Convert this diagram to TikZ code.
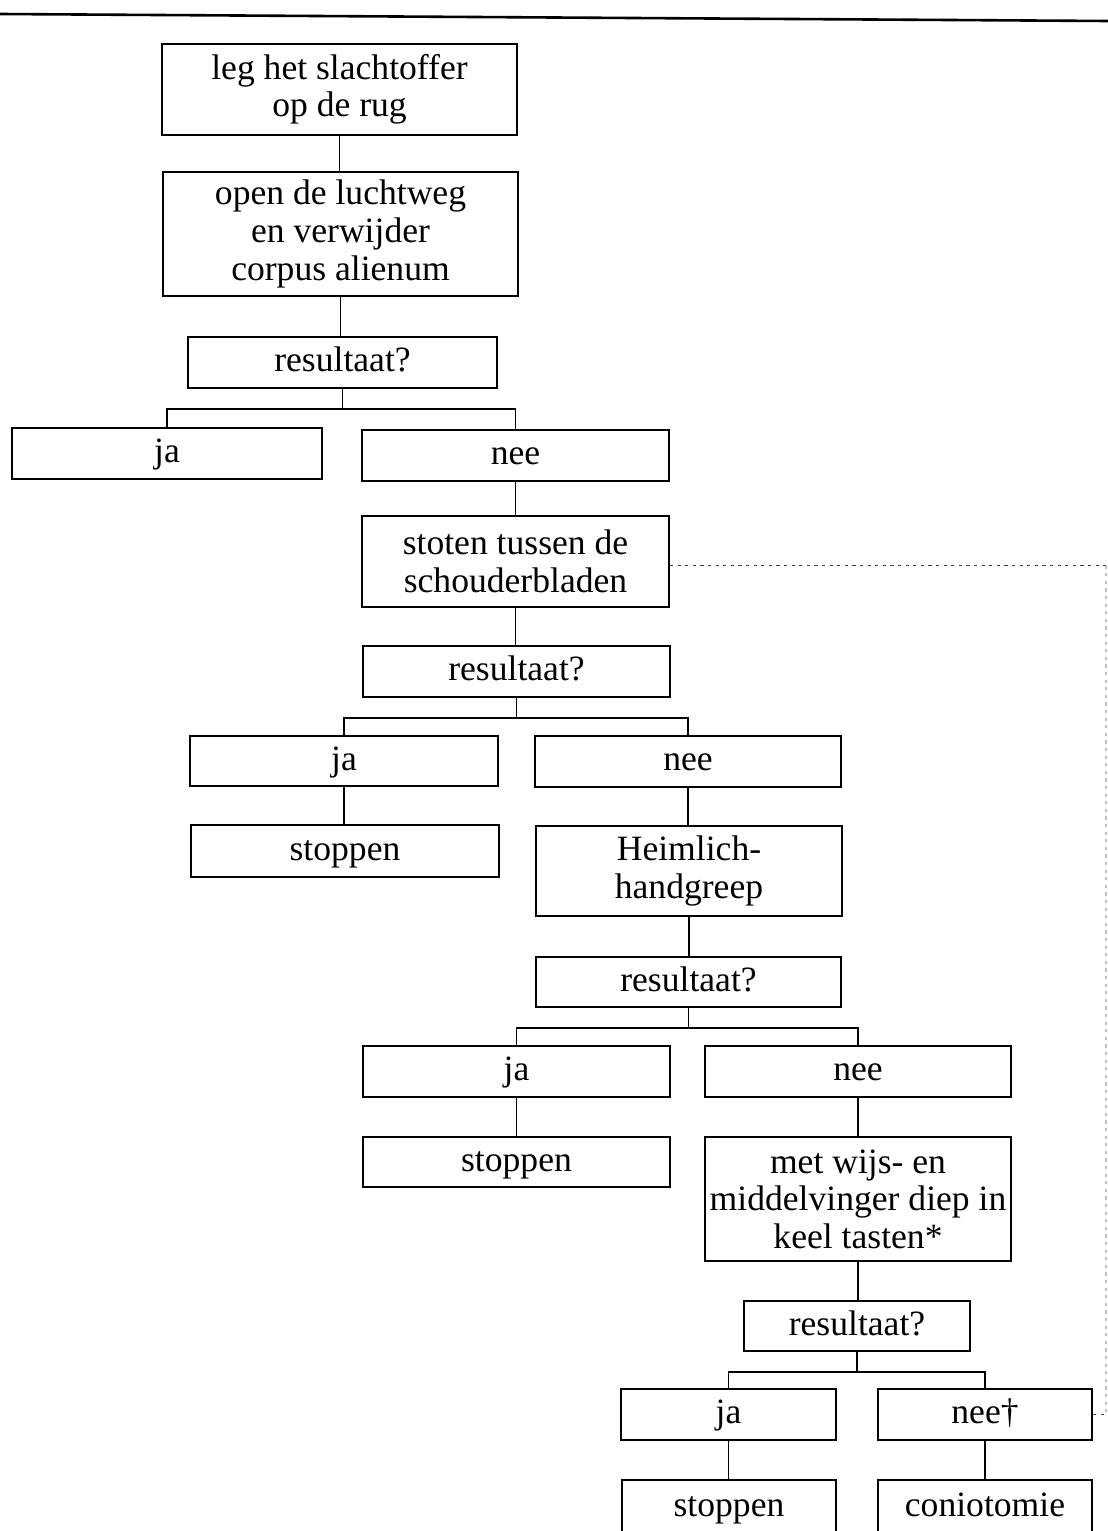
\documentclass[tikz,border=0pt]{standalone}
\usepackage{fontspec}
\setmainfont{Liberation Serif}
\begin{document}
\begin{tikzpicture}[x=0.5pt,y=-0.5pt,
  box/.style={draw, line width=0.9pt, inner sep=0pt, align=center,
    font=\fontsize{17.8}{18.8}\selectfont},
  one/.style={box, text height=13pt, text depth=3.6pt},
  sz/.style 2 args={minimum width=#1*0.5pt, minimum height=#2*0.5pt},
  link/.style={line width=0.8pt},
  dotline/.style={line width=0.9pt, dash pattern=on 1.6pt off 2.2pt}]
\useasboundingbox (0,0) rectangle (1108,1531);
\clip (0,0) rectangle (1108,1531);
\draw[line width=1.3pt] (0,14) -- (1108,21);

\node[box, sz={355}{91}]  (b1)    at (339.5,89.5) {leg het slachtoffer\\op de rug};
\node[box, sz={355}{124}] (b2)    at (340.5,234)  {open de luchtweg\\en verwijder\\corpus alienum};
\node[one, sz={309}{51}]  (r1)    at (342.5,362.5) {resultaat?};
\node[one, sz={310}{51}]  (ja1)   at (167,453.5)  {ja};
\node[one, sz={307}{51}]  (nee1)  at (515.5,455.5) {nee};
\node[box, sz={307}{91}]  (st)    at (515.5,561.5) {stoten tussen de\\schouderbladen};
\node[one, sz={307}{51}]  (r2)    at (516.5,671.5) {resultaat?};
\node[one, sz={308}{50}]  (ja2)   at (344,761)    {ja};
\node[one, sz={306}{51}]  (nee2)  at (688,761.5)  {nee};
\node[one, sz={308}{52}]  (stop2) at (345,851)    {stoppen};
\node[box, sz={306}{90}]  (heim)  at (689,871)    {Heimlich-\\handgreep};
\node[one, sz={305}{50}]  (r3)    at (688.5,982)  {resultaat?};
\node[one, sz={307}{51}]  (ja3)   at (516.5,1071.5) {ja};
\node[one, sz={306}{51}]  (nee3)  at (858,1071.5) {nee};
\node[one, sz={307}{50}]  (stop3) at (516.5,1162) {stoppen};
\node[box, sz={306}{124}] (wijs)  at (858,1199)   {met wijs- en\\middelvinger diep in\\keel tasten*};
\node[one, sz={226}{50}]  (r4)    at (857,1326)   {resultaat?};
\node[one, sz={215}{51}]  (ja4)   at (728.5,1414.5) {ja};
\node[one, sz={214}{51}]  (nee4)  at (985,1414.5) {nee\textdagger};
\node[one, sz={214}{54}]  (stop4) at (729,1507)   {stoppen};
\node[one, sz={214}{54}]  (conio) at (985,1507)   {coniotomie};

% straight links
\draw[link] (b1.south) -- (b1.south |- b2.north);
\draw[link] (b2.south) -- (b2.south |- r1.north);
\draw[link] (nee1.south) -- (nee1.south |- st.north);
\draw[link] (st.south) -- (st.south |- r2.north);
\draw[link] (ja2.south) -- (ja2.south |- stop2.north);
\draw[link] (nee2.south) -- (nee2.south |- heim.north);
\draw[link] (heim.south) -- (heim.south |- r3.north);
\draw[link] (ja3.south) -- (ja3.south |- stop3.north);
\draw[link] (nee3.south) -- (nee3.south |- wijs.north);
\draw[link] (wijs.south) -- (wijs.south |- r4.north);
\draw[link] (ja4.south) -- (ja4.south |- stop4.north);
\draw[link] (nee4.south) -- (nee4.south |- conio.north);

% branches
\draw[link] (r1.south) -- ++(0,20) coordinate (k1);
\draw[link] (ja1.north) |- (k1) -| (nee1.north);
\draw[link] (r2.south) -- ++(0,20) coordinate (k2);
\draw[link] (ja2.north) |- (k2) -| (nee2.north);
\draw[link] (r3.south) -- ++(0,20) coordinate (k3);
\draw[link] (ja3.north) |- (k3) -| (nee3.north);
\draw[link] (r4.south) -- ++(0,20) coordinate (k4);
\draw[link] (ja4.north) |- (k4) -| (nee4.north);

% dotted connection on the right
\coordinate (dR) at (1106,566);
\coordinate (dB) at (1106,1414.5);
\draw[dotline, black!75] ([yshift=-2pt]st.east) -- ([yshift=-2pt]st.east -| dR);
\draw[dotline, black!25] ([yshift=-2pt]st.east -| dR) -- (dB);
\draw[dotline, black!75] (nee4.east) -- (dB);
\end{tikzpicture}
\end{document}
